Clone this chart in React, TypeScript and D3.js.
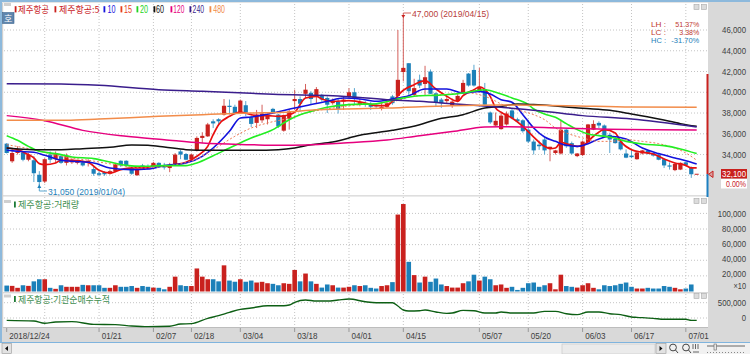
import React from "react";
import * as d3 from "d3";

// ---------- data ----------
const opens = [35050,33350,34150,34200,33500,33450,32050,31400,34000,33550,33850,33200,33250,33200,33250,33200,32600,32200,32300,32150,32400,33400,33400,32700,32000,32950,32850,32850,33200,32950,32700,32950,34300,34050,33550,34400,35600,35750,37200,37400,37850,38700,38600,38050,38750,37600,37050,37300,37400,38400,37850,36300,37450,39150,39350,39850,39950,39550,39750,39450,38950,39100,39100,39550,40000,38800,38950,38850,38800,38400,38600,39600,39650,41950,42800,39750,41200,40800,42000,39900,39300,39150,38700,39150,40000,41800,42150,40050,40300,38050,36800,36450,36900,38250,37400,37300,36400,35250,34950,35450,34550,34150,34100,36400,35100,33850,33950,35200,36400,37050,36800,35900,35500,35250,34100,33900,33550,34100,34400,34150,34000,33550,32950,32500,32550,33250,32800,32100];
const highs = [35100,34650,34800,34300,34150,33850,32400,33650,34300,34300,34000,34100,33650,33500,33450,33550,32850,32400,32400,32550,33200,33450,33450,32850,32700,33100,33050,33300,33250,33200,33200,34150,34450,34150,34100,35750,36150,37050,37400,37500,39350,39300,38800,39300,39150,37700,38300,38800,37950,38500,37900,37850,38300,40250,39600,40800,40100,40500,39850,39600,39400,39350,39600,40400,40400,39350,39150,39050,38950,38950,39100,39750,46000,47000,42800,41300,41700,42550,42200,40000,39450,39600,39400,39950,41200,41850,42650,42350,40900,38150,38050,38000,38150,38400,37550,37400,37350,35450,35350,35600,34750,34450,37350,36450,35250,34150,35350,36950,37300,37200,36900,36100,35700,35350,34500,34500,34300,34450,34400,34200,34050,33650,33250,33200,33250,33300,32850,32100];
const lows = [34100,33200,34000,33350,33350,31350,31050,31250,33200,33200,33100,32950,33100,33050,32850,32850,31950,31900,31950,32050,32300,32800,32850,32050,31950,32550,32550,32700,32750,32550,32300,32950,33550,33450,33500,34300,35100,35700,36550,36800,37750,37850,37850,38000,37700,36650,36550,37050,36900,37950,36550,36200,36400,38300,38150,39450,38800,38950,39100,38000,38800,37950,38300,39450,38800,38650,38600,38300,38500,38250,38500,38800,39450,41050,39750,39600,40400,39750,39850,38650,38500,38950,38500,39050,39950,40550,40550,39950,38700,36950,36700,36400,36800,37400,37100,36100,35100,34000,34450,34000,33350,34000,34000,34650,34000,33750,33850,35100,36350,36550,35700,34150,35050,34400,33650,33650,33500,34000,34000,33800,33450,32700,32550,32400,32500,32950,31750,32100];
const closes = [34150,34150,34400,33500,34000,32200,31350,33550,33500,34100,33200,33850,33500,33400,32950,33400,32150,32050,32100,32400,33050,32950,32950,32150,32600,32600,32650,33200,32850,32750,32950,34000,34000,33500,34000,35600,35800,36900,37000,37200,38700,38600,37950,39200,38050,36950,37850,37950,37850,38000,36700,37800,38150,39350,38900,40250,39350,40300,39300,38800,39200,38400,39300,40000,39450,39050,38800,38600,38650,38600,38950,38950,41200,42350,40100,40400,40650,41450,39850,39050,38950,39350,39100,39650,40900,40650,40650,40550,38800,37100,37250,37750,37950,37500,37200,36250,35250,34400,34800,34400,34750,34400,36400,34800,34100,34100,35250,36900,36950,36800,35800,35450,35100,34500,33700,33750,34200,34400,34100,33900,33500,32950,32850,33100,33200,33000,32100,32100];
const volumes = [7600,7200,4700,8000,7200,13000,15700,15700,4700,3400,8000,6000,6000,6000,8500,8000,8000,8000,4700,4700,8000,6000,6000,7000,4700,7000,6000,5000,4700,2800,6000,19000,8000,7000,7000,29500,19000,15700,15700,13000,33500,14000,12500,15700,12500,14000,11500,12400,10600,9800,8000,10600,9800,27600,13000,23000,13000,9800,5000,9000,8000,5000,5000,6000,8000,7000,8000,4700,3800,7000,8000,12000,98500,112000,38000,21000,11500,19000,12400,16600,9000,7000,5000,5000,10600,13000,21500,14000,19000,15700,8000,9000,4700,6000,2000,4700,10600,11500,6000,8000,10600,2800,21500,7000,6000,5000,8000,10600,4700,2800,8000,7000,8000,9800,11500,6000,3800,3800,4700,3800,3800,7000,6000,4700,2800,3800,9000,0];

type Knot = [number, number];
const ma5: Knot[] = [[0,34630],[2,34470],[4,33990],[5,33670],[6,33120],[7,33030],[9,33190],[10,33450],[12,33450],[15,33250],[17,32480],[19,32220],[21,32550],[23,32710],[26,32710],[27,32960],[29,32870],[31,33030],[33,33250],[35,33830],[37,34790],[38,35920],[39,36880],[41,37680],[43,38100],[45,37840],[46,37750],[48,37750],[50,37680],[52,37840],[53,38070],[55,39450],[57,39610],[58,39350],[60,39130],[63,39190],[66,38970],[68,38710],[70,38710],[71,39130],[73,40190],[75,40730],[77,41120],[79,40310],[81,39610],[83,39130],[84,39670],[86,40250],[87,40510],[89,39610],[90,38480],[91,38070],[93,37520],[95,36720],[97,35690],[99,34790],[100,34570],[101,34630],[102,35180],[104,34890],[105,34790],[106,34860],[108,35760],[110,36400],[112,36080],[113,35270],[115,34470],[117,34220],[119,34050],[121,33570],[123,33190],[125,32960],[126,32710],[127,32710]];
const ma10: Knot[] = [[0,34410],[2,34310],[5,34220],[7,33930],[10,33450],[12,33350],[16,33190],[19,32710],[23,32550],[26,32610],[29,32930],[33,33190],[36,33830],[38,34630],[41,36240],[43,37520],[45,37620],[49,38000],[53,38480],[55,38710],[59,39130],[62,39450],[65,39350],[68,39130],[71,39350],[74,39670],[77,40310],[81,40310],[84,39930],[87,40090],[89,39830],[91,39290],[93,39030],[95,37840],[97,36560],[99,35690],[101,35270],[103,34890],[105,34790],[107,35050],[109,35500],[111,35760],[114,35500],[117,34630],[120,34090],[123,33670],[125,33410],[127,33090]];
const ma15: Knot[] = [[0,34950],[5,34470],[10,33830],[15,33450],[20,33030],[25,32710],[30,32930],[35,33570],[38,34470],[42,35760],[45,36560],[48,37040],[52,37520],[55,38000],[60,38480],[65,38810],[70,38970],[75,39610],[80,39770],[85,39930],[88,39610],[92,38640],[95,38160],[97,37840],[99,37360],[101,36560],[103,36080],[106,35600],[109,35270],[111,35270],[114,35430],[117,35270],[120,35050],[122,34790],[125,34150],[127,33450]];
const ma20: Knot[] = [[0,35820],[2,35370],[4,34790],[6,34310],[9,34090],[12,33770],[16,33610],[19,33280],[22,32960],[25,32870],[29,32930],[33,32930],[35,33190],[38,33890],[41,34630],[45,35600],[49,36400],[52,37360],[54,37840],[56,38160],[59,38550],[63,38810],[68,38900],[72,39350],[76,39670],[79,39700],[84,39930],[88,40250],[91,39830],[93,39450],[96,38810],[97,38390],[99,37910],[101,37590],[103,36980],[105,36400],[107,35980],[109,35820],[111,35690],[114,35270],[117,35020],[121,34860],[124,34540],[127,34090]];
const ma60: Knot[] = [[0,34630],[5,34470],[10,34470],[14,34570],[19,34700],[23,34920],[26,34890],[29,34730],[33,34470],[37,34410],[45,34410],[50,34470],[53,34630],[56,34950],[60,35210],[65,35850],[71,36330],[76,36880],[79,37360],[84,37840],[88,38480],[91,38640],[94,38870],[97,38810],[102,38640],[106,38450],[111,38260],[115,37910],[120,37430],[124,36980],[127,36720]];
const ma120: Knot[] = [[0,37750],[7,37260],[14,36330],[22,35760],[29,35430],[36,35110],[45,34950],[50,34890],[55,34920],[62,35110],[70,35400],[76,35820],[82,36210],[88,36650],[91,36690],[102,36560],[109,36460],[127,36370]];
const ma240: Knot[] = [[0,40830],[10,40800],[17,40670],[28,40250],[36,40090],[45,39900],[49,39800],[60,39670],[70,39290],[76,39130],[82,38900],[91,38550],[98,38230],[106,37750],[115,37420],[127,36650]];
const ma480: Knot[] = [[0,37300],[11,37300],[17,37420],[28,37680],[36,37840],[45,38000],[51,38070],[57,38320],[70,38480],[82,38710],[91,38770],[103,38710],[115,38580],[127,38550]];
const institutional: Knot[] = [[0,-76000],[5,-98000],[7,-174000],[9,-130000],[12,-120000],[16,-207000],[20,-217000],[23,-261000],[26,-283000],[30,-272000],[32,-196000],[34,-185000],[37,-11000],[39,76000],[41,185000],[43,283000],[45,326000],[48,402000],[51,402000],[52,424000],[53,511000],[55,587000],[57,554000],[59,554000],[61,587000],[63,620000],[66,533000],[68,500000],[71,500000],[72,391000],[73,261000],[74,228000],[76,239000],[77,261000],[79,196000],[81,152000],[82,163000],[84,250000],[86,239000],[88,163000],[90,163000],[91,196000],[93,163000],[97,163000],[99,217000],[101,217000],[103,141000],[105,109000],[107,196000],[109,196000],[111,141000],[113,109000],[115,33000],[116,22000],[119,-11000],[121,-43000],[125,-43000],[126,-76000],[127,-76000]];

const priceTicks = [46000,44000,42000,40000,38000,36000,34000];
const priceGrid = [46000,44000,42000,40000,38000,36000,34000,32000];
const volumeTicks = [100000,80000,60000,40000,20000];
const instTicks = [500000,0];
const dateIndex = [0,17,27,34,43,53,63,73,87,96,106,115,125];
const dateLabels = ["2018/12/24","01/21","02/07","02/18","03/04","03/18","04/01","04/15","05/07","05/20","06/03","06/17","07/01"];
const gridIndex = [7,17,27,34,43,53,63,73,87,96,106,115,125];
const legendNames = ["제주항공","제주항공:5","10","15","20","60","120","240","480"];

// ---------- styles ----------
const RED = "#c9211e", BLUE = "#1c80b9";
const REDW = "#d4605c", BLUEW = "#5aa6cf";
const GRID = "#c4c4c4", PANEL = "#d9d9d9";
const GREEN = "#3f8f4f";
const AXIS = "#404040";
const SANS = "'Liberation Sans',sans-serif";
const KR = "'Noto Sans CJK KR',sans-serif";
const legendColors = [RED,RED,"#1515dd","#e8401c","#22d422","#111","#e6007e","#3a1d8c","#f28c4a"];
const legendLayout = [[14.7,18,31],[54.5,59,40.5],[103.5,107.5,8],[120.5,124,8],[136.5,140,8],[153.5,156,8],[170.5,173.3,11],[189.5,192.6,11.4],[209.5,213.3,11.7]];

const x = d3.scaleLinear().domain([0,127]).range([6.7,696.7]);
const yP = d3.scaleLinear().domain([32000,46000]).range([175.3,30]);
const yV = d3.scaleLinear().domain([0,100000]).range([291.5,213.4]);
const yI = d3.scaleLinear().domain([0,500000]).range([318,302.7]);

const lineOf = (knots: Knot[], y: d3.ScaleLinear<number,number>) =>
  d3.line<Knot>().x(d => x(d[0])).y(d => y(d[1])).curve(d3.curveMonotoneX)(knots) ?? "";

const maSeries: { d: Knot[]; c: string; w: number; dash?: string }[] = [
  { d: ma5, c: "#e81010", w: 1.7 },
  { d: ma10, c: "#1212dd", w: 1.6 },
  { d: ma15, c: "#ee7a55", w: 1, dash: "2 2" },
  { d: ma20, c: "#22ee22", w: 1.6 },
  { d: ma60, c: "#111111", w: 1.5 },
  { d: ma120, c: "#e6007e", w: 1.5 },
  { d: ma240, c: "#3a1d8c", w: 1.5 },
  { d: ma480, c: "#f28c4a", w: 1.5 },
];

// narrow bitmap-style numerals: squeeze the text to the width the reference shows
const widthOf = (s: string) =>
  Array.from(s).reduce((acc, ch) => acc + (/[0-9]/.test(ch) ? 4.3 : ch === "/" ? 3 : 2.4), 0);

const T = (p: { x: number; y: number; s: string; fill?: string; end?: boolean; size?: number; w?: number }) => {
  const w = p.w ?? widthOf(p.s);
  return (
    <text x={p.end ? p.x - w : p.x} y={p.y} fontSize={p.size ?? 9.5} fontFamily={SANS} fill={p.fill ?? AXIS}
      textLength={w} lengthAdjust="spacingAndGlyphs">{p.s}</text>
  );
};

const btn = (bx: number, by: number) => (
  <rect x={bx} y={by} width={5} height={5} fill="#dcdcdc" stroke="#a8a8a8" strokeWidth={0.6} />
);

export default function App() {
  return (
    <svg width={750} height={354} style={{ position: "absolute", left: 0, top: 0, background: "#fff" }}>
      {/* frame */}
      <rect x={0} y={0} width={750} height={354} fill="#fff" />
      <rect x={0} y={0} width={750} height={2} fill="#8db9dc" />
      <rect x={0} y={0} width={2} height={342} fill="#8db9dc" />
      <rect x={708} y={2} width={42} height={340} fill={PANEL} />
      <rect x={2} y={2} width={706} height={1} fill="#e4e4e4" />
      <rect x={2} y={195} width={706} height={1.6} fill="#dedede" />
      <rect x={2} y={292} width={706} height={1.4} fill="#d8d8d8" />
      <rect x={2} y={328} width={706} height={14} fill={PANEL} />
      <rect x={2} y={327} width={706} height={1} fill="#bdbdbd" />
      <rect x={2} y={3} width={1.2} height={325} fill="#d0d0d0" />

      {/* grid */}
      <g stroke={GRID} strokeWidth={1} strokeDasharray="1 2">
        {priceGrid.map(v => <line key={v} x1={4} x2={707} y1={yP(v)} y2={yP(v)} />)}
        {volumeTicks.map(v => <line key={v} x1={4} x2={707} y1={yV(v)} y2={yV(v)} />)}
        {instTicks.map(v => <line key={v} x1={4} x2={707} y1={yI(v)} y2={yI(v)} />)}
        {gridIndex.map(i => (
          <g key={i}>
            <line x1={x(i)} x2={x(i)} y1={4} y2={195} />
            <line x1={x(i)} x2={x(i)} y1={197} y2={291} />
            <line x1={x(i)} x2={x(i)} y1={294} y2={327} />
          </g>
        ))}
      </g>

      {/* candles */}
      {opens.map((o, i) => {
        const c = closes[i];
        const up = c >= o;
        const top = yP(Math.max(o, c));
        const bot = yP(Math.min(o, c));
        return (
          <g key={i}>
            <line x1={x(i)} x2={x(i)} y1={yP(highs[i])} y2={yP(lows[i])} stroke={up ? REDW : BLUEW} strokeWidth={1} />
            {o === c
              ? <line x1={x(i) - 2} x2={x(i) + 2} y1={top} y2={top} stroke={RED} strokeWidth={1} />
              : <rect x={x(i) - 2.1} y={top} width={4.2} height={Math.max(1.2, bot - top)} fill={up ? RED : BLUE} />}
          </g>
        );
      })}

      {/* moving averages */}
      {maSeries.map((s, k) => (
        <path key={k} d={lineOf(s.d, yP)} fill="none" stroke={s.c} strokeWidth={s.w} strokeDasharray={s.dash} strokeLinejoin="round" />
      ))}

      {/* legend */}
      {legendNames.map((n, k) => (
        <g key={k}>
          <rect x={legendLayout[k][0]} y={6.2} width={1.8} height={6.2} fill={legendColors[k]} />
          <text x={legendLayout[k][1]} y={13} fontSize={k < 2 ? 9.5 : 10.5} fontFamily={k < 2 ? KR : SANS} fill={legendColors[k]}
            textLength={legendLayout[k][2]} lengthAdjust="spacingAndGlyphs">{n}</text>
        </g>
      ))}
      <rect x={2.5} y={12.5} width={11.5} height={11} fill="#5f85ad" stroke="#3f6690" strokeWidth={0.6} />
      <text x={8.2} y={21.5} textAnchor="middle" fontSize={9} fontFamily={KR} fill="#fff">호</text>
      <rect x={4} y={200} width={7} height={3} fill="#cfcfcf" />
      <rect x={4} y={294.5} width={7} height={3} fill="#cfcfcf" />
      <rect x={4} y={3} width={7} height={3} fill="#cfcfcf" />

      {/* annotations */}
      <path d={`M${x(73)},${yP(47000)} V13 H411`} fill="none" stroke={REDW} strokeWidth={1} />
      <path d={`M${x(73) - 2},15 L${x(73)},18 L${x(73) + 2},15 Z`} fill={RED} />
      <T x={412} y={16.5} s="47,000 (2019/04/15)" fill="#b8403c" w={77} />
      <path d={`M${x(6)},184 V191 H47`} fill="none" stroke={BLUEW} strokeWidth={1} />
      <path d={`M${x(6) - 2},188 L${x(6)},184.5 L${x(6) + 2},188 Z`} fill={BLUE} />
      <T x={48} y={195} s="31,050 (2019/01/04)" fill={BLUE} w={77} />
      <T x={651} y={27} s="LH :" fill="#c0392f" w={15} size={8} />
      <T x={699.3} y={27} s="51.37%" fill="#c0392f" w={24} end size={8} />
      <T x={651} y={35} s="LC :" fill="#c0392f" w={15} size={8} />
      <T x={699.3} y={35} s="3.38%" fill="#c0392f" w={20} end size={8} />
      <T x={651} y={43} s="HC :" fill={BLUE} w={15} size={8} />
      <T x={699.3} y={43} s="-31.70%" fill={BLUE} w={28} end size={8} />
      {btn(694, 4.5)}{btn(701.5, 4.5)}
      {btn(694, 198.5)}{btn(701.5, 198.5)}
      {btn(694, 293.5)}{btn(701.5, 293.5)}

      {/* volume */}
      {volumes.map((v, i) => v > 0 && (
        <rect key={i} x={x(i) - 2.3} y={yV(v)} width={4.6} height={yV(0) - yV(v)} fill={closes[i] >= opens[i] ? RED : BLUE} />
      ))}
      <rect x={14} y={201.5} width={1.8} height={6} fill="#1c7a35" />
      <text x={18} y={208} fontSize={9.5} fontFamily={KR} fill={GREEN} textLength={61} lengthAdjust="spacingAndGlyphs">제주항공:거래량</text>

      {/* institutional */}
      <path d={lineOf(institutional, yI)} fill="none" stroke="#0d5f14" strokeWidth={1.4} />
      <rect x={14} y={296} width={1.8} height={6} fill="#1c7a35" />
      <text x={18} y={302.5} fontSize={9.5} fontFamily={KR} fill={GREEN} textLength={92} lengthAdjust="spacingAndGlyphs">제주항공:기관순매수누적</text>

      {/* right axis */}
      {priceTicks.map(v => <T key={v} x={746} y={yP(v) + 3} s={d3.format(",")(v)} end />)}
      {volumeTicks.map(v => <T key={v} x={746} y={yV(v) + 3.2 - (100000 - v) / 20000 * 0.5} s={d3.format(",")(v)} end size={v >= 100000 ? 8.6 : undefined} />)}
      <T x={746} y={289} s="×10" w={12.5} end />
      {instTicks.map(v => <T key={v} x={746} y={yI(v) + 3} s={d3.format(",")(v)} end size={v >= 100000 ? 8.6 : undefined} />)}

      {/* current-price range */}
      <line x1={707.5} x2={707.5} y1={74} y2={174} stroke={RED} strokeWidth={2} />
      <line x1={707.5} x2={707.5} y1={174} y2={197} stroke="#1c7fc0" strokeWidth={2} />
      <path d="M708.5,174.3 L713,171 V177.5 Z" fill="#d8a0a0" stroke={RED} strokeWidth={1} />
      <rect x={721} y={169} width={26} height={9.5} fill={RED} />
      <T x={746} y={177} s="32,100" fill="#fff" end size={8.8} />
      <rect x={721} y={179} width={26} height={9.5} fill="#fff" />
      <T x={746} y={187} s="0.00%" fill={RED} w={20} end size={8.8} />

      {/* date axis */}
      {dateIndex.map((i, k) => (
        <g key={i}>
          <line x1={x(i)} x2={x(i)} y1={328} y2={332} stroke="#9a9a9a" strokeWidth={1} />
          <T x={x(i) + 2.6} y={339} s={dateLabels[k]} />
        </g>
      ))}

      {/* toolbar */}
      <rect x={0} y={342} width={750} height={12} fill="#f1f1f1" />
      <rect x={0} y={342} width={750} height={1} fill="#7fb4de" />
      <rect x={2} y={343.5} width={9.5} height={10} fill="#e2e2e2" stroke="#9a9a9a" strokeWidth={0.6} />
      <path d="M5,348.5 L8,346 V351 Z" fill="#111" />
      <rect x={562} y={344} width={93} height={10} fill="#ebebeb" stroke="#c4c4c4" strokeWidth={0.6} />
      <rect x={656} y={343.5} width={10} height={10} fill="#e2e2e2" stroke="#9a9a9a" strokeWidth={0.6} />
      <path d="M659.5,346 L662.5,348.5 L659.5,351 Z" fill="#111" />
      {[673, 686].map(cx => (
        <g key={cx} fill="none" stroke="#444" strokeWidth={1}>
          <circle cx={cx} cy={347.5} r={3.4} />
          <line x1={cx + 2.5} y1={350} x2={cx + 5} y2={353} />
        </g>
      ))}
      <g stroke="#666" strokeWidth={1}>
        <line x1={693} x2={693} y1={344} y2={349} /><line x1={695.5} x2={695.5} y1={344} y2={349} /><line x1={698} x2={698} y1={344} y2={349} />
        <line x1={693} x2={699} y1={352} y2={352} />
      </g>
      <line x1={707} x2={745} y1={346} y2={346} stroke="#666" strokeWidth={1} />
      <rect x={714} y={344} width={2.5} height={6} fill="#e8e8e8" stroke="#666" strokeWidth={0.6} />
      <line x1={707} x2={745} y1={352.5} y2={352.5} stroke="#888" strokeWidth={1} strokeDasharray="1 2" />
    </svg>
  );
}
